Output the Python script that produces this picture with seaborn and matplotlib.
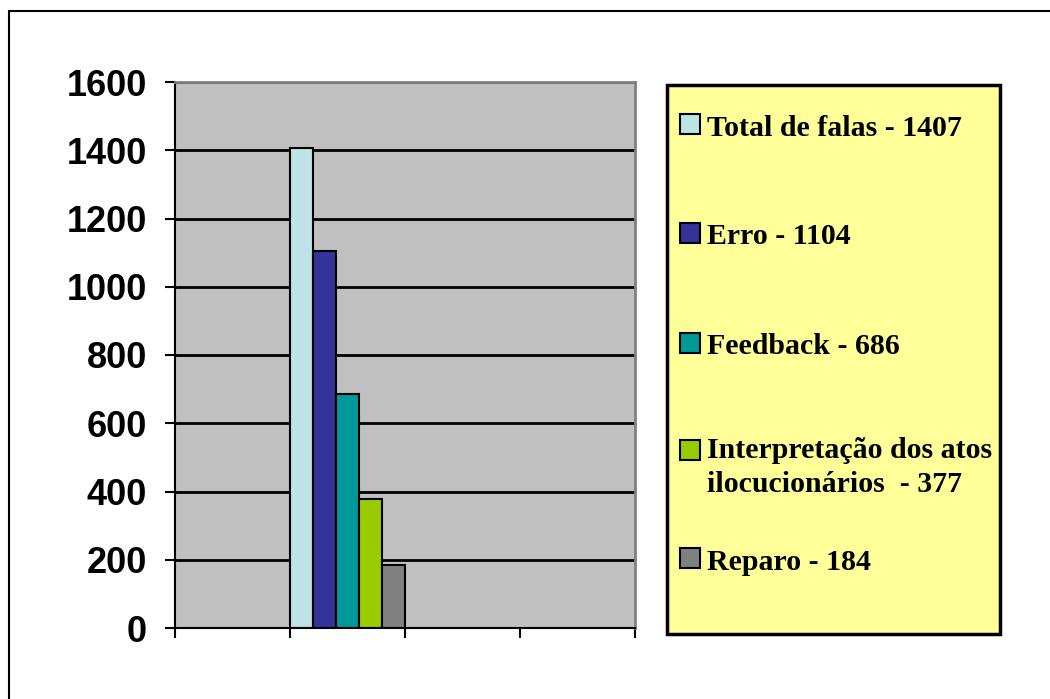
import pandas as pd
import matplotlib
matplotlib.use("Agg")
import matplotlib.pyplot as plt
from matplotlib.patches import Rectangle
import seaborn as sns

# data
categorias = ["1", "2", "3", "4"]
series = ["Total de falas - 1407", "Erro - 1104", "Feedback - 686",
          "Interpretação dos atos\nilocucionários  - 377", "Reparo - 184"]
valores = [1407, 1104, 686, 377, 184]
cores = ["#BDE3E6", "#333399", "#009999", "#99CC00", "#808080"]
yticks = [0, 200, 400, 600, 800, 1000, 1200, 1400, 1600]

df = pd.DataFrame({"grupo": ["2"] * len(series),
                   "serie": series,
                   "valor": valores})

sns.set_style("white")
W, H = 1050, 699
fig = plt.figure(figsize=(10.5, 6.99), dpi=100)
ax = fig.add_axes([175 / W, 1 - 628 / H, 460 / W, 546 / H])
ax.set_facecolor("#C0C0C0")

sns.barplot(data=df, x="grupo", y="valor", hue="serie", order=categorias,
            hue_order=series, palette=cores, width=1, edgecolor="black",
            linewidth=1.5, saturation=1, legend=False, ax=ax)

ax.set_xlim(-0.5, 3.5)
ax.set_ylim(0, 1600)
ax.set_yticks(yticks)
ax.set_xticks([-0.5, 0.5, 1.5, 2.5, 3.5])
ax.set_xticklabels([])
ax.set_xlabel("")
ax.set_ylabel("")
ax.yaxis.grid(True, color="black", linewidth=2)
ax.set_axisbelow(True)
ax.tick_params(axis="y", direction="out", length=7, width=1.5, pad=13,
               left=True, color="black", labelcolor="black")
ax.tick_params(axis="x", direction="out", length=7, width=1.5,
               bottom=True, color="black")
for lbl in ax.get_yticklabels():
    lbl.set_fontfamily("Liberation Sans")
    lbl.set_fontweight("bold")
    lbl.set_fontsize(26)

for s in ["left", "bottom"]:
    ax.spines[s].set_color("black")
    ax.spines[s].set_linewidth(1.5)
for s in ["top", "right"]:
    ax.spines[s].set_visible(True)
    ax.spines[s].set_color("#808080")
    ax.spines[s].set_linewidth(2)

# legend box drawn by hand to match the spacing
def px(x, y):
    return x / W, 1 - y / H

lx0, ly0, lx1, ly1 = 667, 85, 1000, 634
fig.patches.append(Rectangle(px(lx0, ly1), (lx1 - lx0) / W, (ly1 - ly0) / H,
                             transform=fig.transFigure, facecolor="#FFFF99",
                             edgecolor="black", linewidth=2.5))
centros = [124, 233, 343, 450, 558]
for nome, cor, cy in zip(series, cores, centros):
    fig.patches.append(Rectangle(px(680, cy + 10), 20 / W, 20 / H,
                                 transform=fig.transFigure, facecolor=cor,
                                 edgecolor="black", linewidth=1.5))
    va = "top" if "\n" in nome else "center"
    ty = cy - 13 if "\n" in nome else cy + 4
    fig.text(*px(707, ty), nome, fontfamily="Liberation Serif",
             fontweight="bold", fontsize=21.5, va=va, ha="left",
             color="black", linespacing=1.32)

# outer chart border (runs off the right and bottom edges)
fig.patches.append(Rectangle((9 / W, -0.1), 1.2, 1 - 11 / H + 0.1,
                             transform=fig.transFigure, facecolor="none",
                             edgecolor="black", linewidth=1.5))

fig.savefig("out.png", dpi=100)
